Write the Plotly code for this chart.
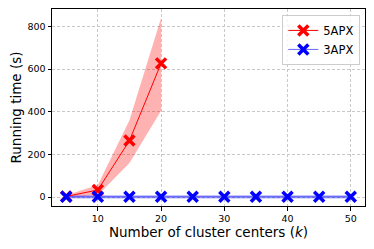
import plotly.graph_objects as go

k_red = [5, 10, 15, 20]
red_mean = [3, 33, 265, 627]
red_low = [0, 8, 160, 405]
red_high = [8, 56, 360, 840]

k_blue = [5, 10, 15, 20, 25, 30, 35, 40, 45, 50]
blue_mean = [1, 1, 1, 1, 1, 1, 1, 1, 1, 1]
blue_low = [-7, -7, -7, -7, -7, -7, -7, -7, -7, -7]
blue_high = [9, 9, 9, 9, 9, 9, 9, 9, 9, 9]

x_ticks = [10, 20, 30, 40, 50]
y_ticks = [0, 200, 400, 600, 800]

fig = go.Figure()

# bands
fig.add_trace(go.Scatter(x=k_red, y=red_low, mode="lines", line=dict(width=0),
                         showlegend=False, hoverinfo="skip"))
fig.add_trace(go.Scatter(x=k_red, y=red_high, mode="lines", line=dict(width=0),
                         fill="tonexty", fillcolor="rgba(255,0,0,0.3)",
                         showlegend=False, hoverinfo="skip"))
fig.add_trace(go.Scatter(x=k_blue, y=blue_low, mode="lines", line=dict(width=0),
                         showlegend=False, hoverinfo="skip"))
fig.add_trace(go.Scatter(x=k_blue, y=blue_high, mode="lines", line=dict(width=0),
                         fill="tonexty", fillcolor="rgba(0,0,255,0.3)",
                         showlegend=False, hoverinfo="skip"))

marker_common = dict(symbol="x-thin", size=10)
fig.add_trace(go.Scatter(x=k_red, y=red_mean, mode="lines+markers", name="5APX",
                         line=dict(color="red", width=1),
                         marker=dict(color="red", line=dict(color="red", width=3.5), **marker_common)))
fig.add_trace(go.Scatter(x=k_blue, y=blue_mean, mode="lines+markers", name="3APX",
                         line=dict(color="rgba(0,0,255,0.6)", width=1),
                         marker=dict(color="blue", line=dict(color="blue", width=3.5), **marker_common)))

axis_common = dict(
    showline=True, linecolor="black", linewidth=1, mirror=True,
    ticks="outside", ticklen=3.5, tickcolor="black", tickwidth=1,
    showgrid=True, gridcolor="#c8c8c8", griddash="3px,2px", gridwidth=0.8,
    zeroline=False, automargin=False,
    tickfont=dict(family="DejaVu Sans", size=9.5, color="black"),
)

# page body has an 8px default margin, so the figure is shifted by 8px
fig.update_layout(
    width=366, height=241,
    margin=dict(l=44, r=9, t=1, b=43),
    plot_bgcolor="white", paper_bgcolor="white",
    font=dict(family="DejaVu Sans", color="black"),
    xaxis=dict(range=[2.75, 52.25], tickvals=x_ticks,
               title=dict(text="Number of cluster centers (<i>k</i>)",
                          font=dict(size=13.5), standoff=3),
               **axis_common),
    yaxis=dict(range=[-42, 882], tickvals=y_ticks,
               title=dict(text="Running time (s)", font=dict(size=13.5), standoff=4),
               **axis_common),
    legend=dict(x=0.985, y=0.97, xanchor="right", yanchor="top", traceorder="normal",
                bgcolor="rgba(255,255,255,0.8)", bordercolor="#cccccc", borderwidth=1,
                font=dict(size=11.5), itemwidth=30, tracegroupgap=0),
)

fig.write_html("out.html")
